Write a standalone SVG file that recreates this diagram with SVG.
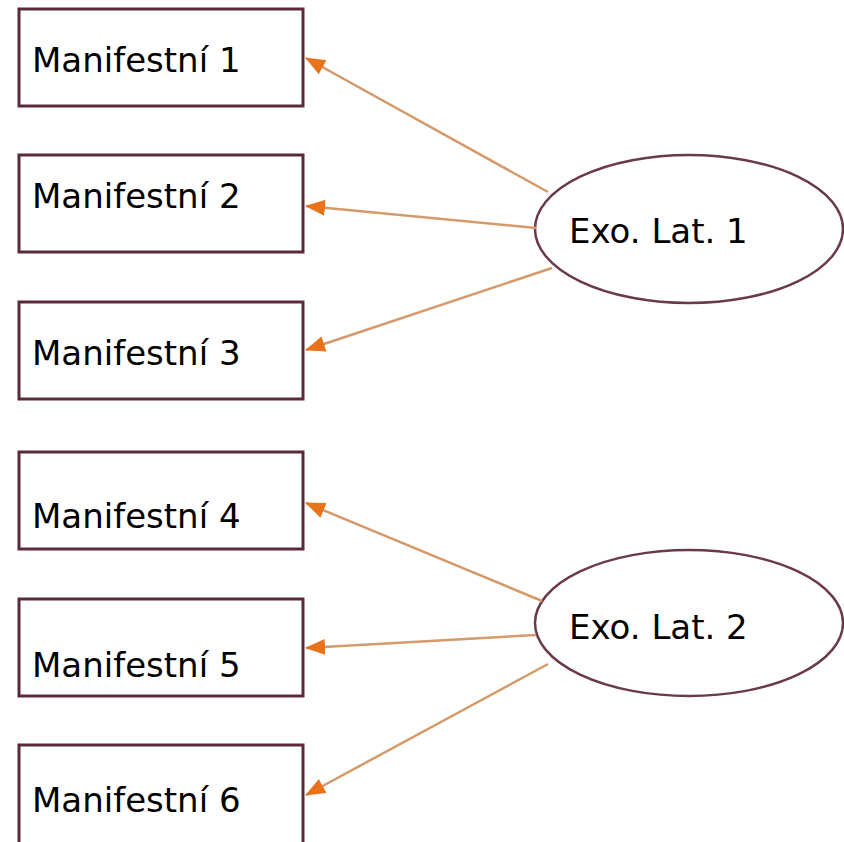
<svg xmlns="http://www.w3.org/2000/svg" width="844" height="842" viewBox="0 0 844 842">
<style>
.box{fill:#ffffff;stroke:#5a2a3a;stroke-width:3}
.ell{fill:#ffffff;stroke:#6a3a4a;stroke-width:2.5}
.lbl{font-family:"DejaVu Sans","Liberation Sans",sans-serif;font-size:34px;fill:#000000}
.edge{stroke:#d49a6a;stroke-width:2.5;fill:none}
</style>
<defs>
<marker id="ah" markerUnits="userSpaceOnUse" markerWidth="20" markerHeight="18" refX="19" refY="8" orient="auto" viewBox="0 0 20 16">
<path d="M20,8 L0,0 L0,16 Z" fill="#e8731a"/>
</marker>
</defs>
<rect width="844" height="842" fill="#ffffff"/>
<g id="m1"><rect class="box" x="19" y="9" width="284" height="97"/><text class="lbl" x="32" y="72">Manifestní 1</text></g>
<g id="m2"><rect class="box" x="19" y="155" width="284" height="97"/><text class="lbl" x="32" y="208">Manifestní 2</text></g>
<g id="m3"><rect class="box" x="19" y="302" width="284" height="97"/><text class="lbl" x="32" y="365">Manifestní 3</text></g>
<g id="m4"><rect class="box" x="19" y="452" width="284" height="97"/><text class="lbl" x="32" y="528">Manifestní 4</text></g>
<g id="m5"><rect class="box" x="19" y="599" width="284" height="97"/><text class="lbl" x="32" y="677">Manifestní 5</text></g>
<g id="m6"><rect class="box" x="19" y="745" width="284" height="100"/><text class="lbl" x="32" y="812">Manifestní 6</text></g>
<g id="e1"><ellipse class="ell" cx="689" cy="229" rx="154" ry="74"/><text class="lbl" x="569" y="243">Exo. Lat. 1</text></g>
<g id="e2"><ellipse class="ell" cx="689" cy="623" rx="154" ry="73"/><text class="lbl" x="569" y="639">Exo. Lat. 2</text></g>
<g id="connectors">
<line class="edge" x1="548" y1="192" x2="306" y2="58" marker-end="url(#ah)"/>
<line class="edge" x1="536" y1="228" x2="306" y2="206" marker-end="url(#ah)"/>
<line class="edge" x1="552" y1="268" x2="306" y2="350" marker-end="url(#ah)"/>
<line class="edge" x1="542" y1="601" x2="306" y2="503" marker-end="url(#ah)"/>
<line class="edge" x1="536" y1="635" x2="306" y2="648" marker-end="url(#ah)"/>
<line class="edge" x1="548" y1="664" x2="306" y2="795" marker-end="url(#ah)"/>
</g>
</svg>
